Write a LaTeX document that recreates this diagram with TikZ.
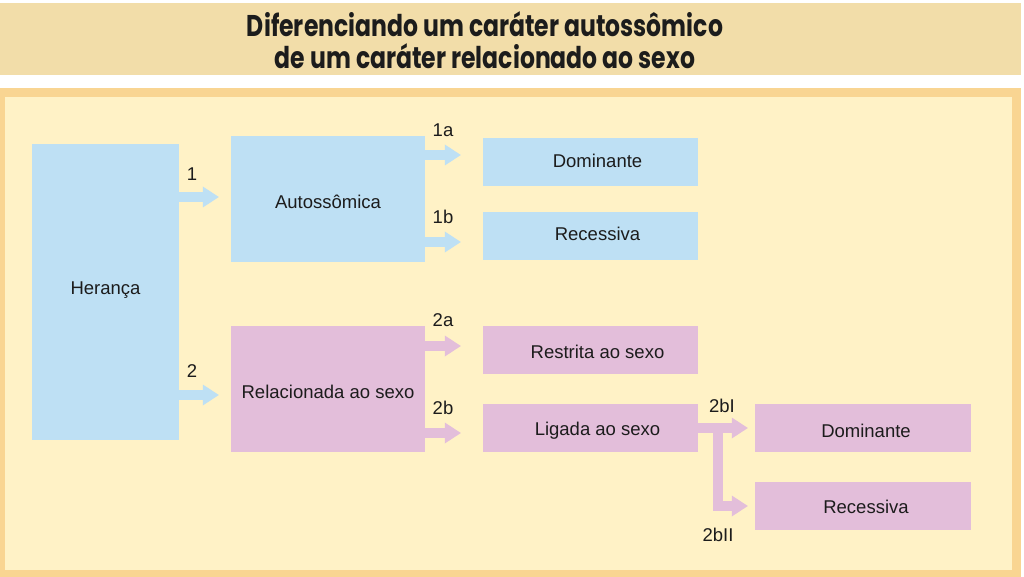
\documentclass[tikz,border=0pt]{standalone}
\usepackage{fontspec}
\setmainfont{Liberation Sans}
\newfontfamily\titlefont{Poppins}
\usetikzlibrary{arrows.meta}
\definecolor{bandcol}{HTML}{F2DDA9}
\definecolor{framecol}{HTML}{F9D592}
\definecolor{innercol}{HTML}{FFF2C6}
\definecolor{boxblue}{HTML}{BEE0F4}
\definecolor{boxpink}{HTML}{E3BEDA}
\definecolor{inkcol}{HTML}{1C1C1C}
\newcommand{\shiftr}[1]{\hspace*{14pt}#1}
\newcommand{\vmove}[2]{\raisebox{#1}[\height][\depth]{#2}}
\tikzset{
  bbox/.style={fill=boxblue, draw=none, inner sep=0pt, text=inkcol, font=\fontsize{18.5}{22}\selectfont},
  pbox/.style={fill=boxpink, draw=none, inner sep=0pt, text=inkcol, font=\fontsize{18.5}{22}\selectfont},
  smallbox/.style={minimum width=215pt, minimum height=48pt},
  midbox/.style={minimum width=194pt, minimum height=126pt},
  fatarrow/.style={line width=10pt, -{Triangle[width=21pt,length=16pt,line width=0pt]}},
  barrow/.style={fatarrow, draw=boxblue},
  parrow/.style={fatarrow, draw=boxpink},
  numlabel/.style={text=inkcol, font=\fontsize{18.5}{22}\selectfont, inner sep=0pt},
  titletext/.style={text=inkcol, font=\titlefont\bfseries\fontsize{30}{34}\selectfont, inner sep=0pt}
}
\begin{document}
\begin{tikzpicture}[x=1pt,y=-1pt]
\useasboundingbox (0,0) rectangle (1024,577);
% title band
\fill[bandcol] (0,3) rectangle (1021,75);
\node[titletext] (t1) at (485,24) {\scalebox{0.784}[1]{Diferenciando um caráter autossômico}};
\node[titletext] (t2) at (485,56) {\scalebox{0.784}[1]{de um caráter relacionado ao sexo}};
% frame
\fill[framecol] (0,88) rectangle (1021,577);
\fill[innercol] (5,97) rectangle (1012,570);
% boxes
\node[bbox, minimum width=147pt, minimum height=296pt] (her) at (105.5,292) {\vmove{2pt}{Herança}};
\node[bbox, midbox] (auto) at (328,199) {\vmove{-3pt}{Autossômica}};
\node[pbox, midbox] (rel) at (328,389) {\vmove{-3pt}{Relacionada ao sexo}};
\node[bbox, smallbox] (dom1) at (590.5,162) {\shiftr{\vmove{1pt}{Dominante}}};
\node[bbox, smallbox] (rec1) at (590.5,236) {\shiftr{\vmove{2pt}{Recessiva}}};
\node[pbox, smallbox] (res) at (590.5,350) {\shiftr{\vmove{-2pt}{Restrita ao sexo}}};
\node[pbox, smallbox] (lig) at (590.5,428) {\shiftr{\vmove{-3pt}{Ligada ao sexo}}};
\node[pbox, smallbox, minimum width=216pt] (dom2) at (863,428) {\hspace*{6pt}\vmove{-3pt}{Dominante}};
\node[pbox, smallbox, minimum width=216pt] (rec2) at (863,506) {\hspace*{6pt}\vmove{-1pt}{Recessiva}};
% arrows
\draw[barrow, shorten >=12pt] (her.east |- 0,197) -- (auto.west |- 0,197);
\draw[barrow, shorten >=12pt] (her.east |- 0,395) -- (rel.west |- 0,395);
\draw[barrow, shorten >=22pt] (auto.east |- 0,155) -- (dom1.west |- 0,155);
\draw[barrow, shorten >=22pt] (auto.east |- 0,242) -- (rec1.west |- 0,242);
\draw[parrow, shorten >=22pt] (rel.east |- 0,346) -- (res.west |- 0,346);
\draw[parrow, shorten >=22pt] (rel.east |- 0,433) -- (lig.west |- 0,433);
\draw[parrow, shorten >=7pt] (lig.east) -- (dom2.west);
\coordinate (branch) at (718,428);
\draw[parrow, shorten >=7pt, line join=miter] (branch) |- (rec2.west);
% labels
\node[numlabel] (l1) at (192,174) {1};
\node[numlabel] (l2) at (192,371) {2};
\node[numlabel] (l1a) at (443,130) {1a};
\node[numlabel] (l1b) at (443,217) {1b};
\node[numlabel] (l2a) at (443,320) {2a};
\node[numlabel] (l2b) at (443,408) {2b};
\node[numlabel] (l2bi) at (722,406) {2bI};
\node[numlabel] (l2bii) at (718,535) {2bII};
\end{tikzpicture}
\end{document}
